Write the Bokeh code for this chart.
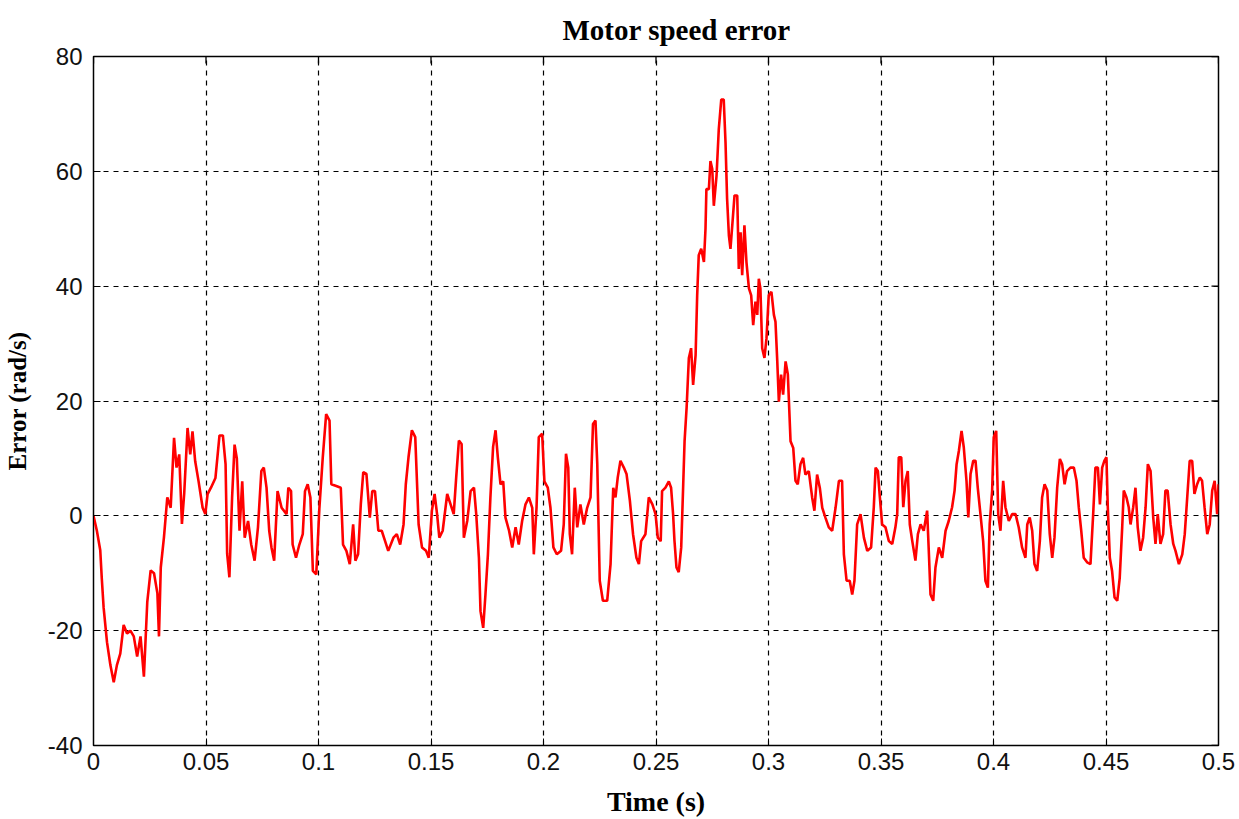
import math
from bokeh.plotting import figure
from bokeh.models import FixedTicker, Range1d
from bokeh.embed import file_html
from bokeh.resources import INLINE

# ---- data ----
time_s = [
    0.0000, 0.0015, 0.0030, 0.0037, 0.0045, 0.0060, 0.0075, 0.0090, 0.0104, 0.0119,
    0.0134, 0.0149, 0.0164, 0.0179, 0.0194, 0.0209, 0.0224, 0.0239, 0.0254, 0.0269,
    0.0284, 0.0291, 0.0299, 0.0313, 0.0328, 0.0343, 0.0358, 0.0369, 0.0381, 0.0393,
    0.0403, 0.0418, 0.0430, 0.0440, 0.0452, 0.0467, 0.0485, 0.0497, 0.0507, 0.0522,
    0.0542, 0.0560, 0.0575, 0.0587, 0.0594, 0.0604, 0.0616, 0.0627, 0.0637, 0.0649,
    0.0661, 0.0672, 0.0687, 0.0701, 0.0716, 0.0731, 0.0746, 0.0757, 0.0769, 0.0781,
    0.0791, 0.0803, 0.0818, 0.0836, 0.0858,
    0.0866, 0.0878, 0.0885, 0.0900, 0.0915, 0.0930, 0.0940, 0.0952, 0.0964, 0.0975,
    0.0990, 0.1004, 0.1019, 0.1034, 0.1049, 0.1057, 0.1079, 0.1099, 0.1109, 0.1124,
    0.1139, 0.1154, 0.1164, 0.1176, 0.1188, 0.1199, 0.1213, 0.1228, 0.1239, 0.1251,
    0.1266, 0.1281, 0.1296, 0.1310, 0.1333, 0.1348, 0.1363, 0.1378, 0.1388, 0.1400,
    0.1415, 0.1430, 0.1445, 0.1460, 0.1478, 0.1490, 0.1504, 0.1516, 0.1527, 0.1537,
    0.1552, 0.1572, 0.1587, 0.1601, 0.1612, 0.1624, 0.1636, 0.1646, 0.1661, 0.1676,
    0.1691, 0.1701, 0.1713,
    0.1720, 0.1732, 0.1742, 0.1753, 0.1764, 0.1776, 0.1787, 0.1797, 0.1809, 0.1821,
    0.1831, 0.1847, 0.1861, 0.1876, 0.1890, 0.1905, 0.1920, 0.1935, 0.1950, 0.1957,
    0.1969, 0.1979, 0.1994, 0.2004, 0.2019, 0.2031, 0.2044, 0.2059, 0.2078, 0.2090,
    0.2100, 0.2110, 0.2117, 0.2127, 0.2139, 0.2150, 0.2164, 0.2179, 0.2194, 0.2209,
    0.2220, 0.2231, 0.2239, 0.2250, 0.2264, 0.2283, 0.2298, 0.2310, 0.2320, 0.2330,
    0.2342, 0.2357, 0.2369, 0.2384, 0.2398, 0.2413, 0.2424, 0.2434, 0.2453, 0.2468,
    0.2484, 0.2498, 0.2508, 0.2521,
    0.2527, 0.2542, 0.2557, 0.2567, 0.2576, 0.2582, 0.2591, 0.2601, 0.2612, 0.2621,
    0.2627, 0.2636, 0.2646, 0.2656, 0.2665, 0.2676, 0.2683, 0.2690, 0.2701, 0.2713,
    0.2720, 0.2724, 0.2735, 0.2742, 0.2750, 0.2757, 0.2769, 0.2779, 0.2790, 0.2801,
    0.2809, 0.2816, 0.2824, 0.2831, 0.2839, 0.2849, 0.2861, 0.2868, 0.2876, 0.2883,
    0.2893, 0.2902, 0.2913, 0.2923, 0.2932, 0.2942, 0.2950, 0.2957, 0.2964, 0.2972,
    0.2982, 0.2991, 0.3001, 0.3013, 0.3024, 0.3031, 0.3039, 0.3046, 0.3056, 0.3065,
    0.3076, 0.3086, 0.3098, 0.3110, 0.3120, 0.3130, 0.3142, 0.3154, 0.3164, 0.3179,
    0.3194, 0.3204, 0.3216, 0.3228, 0.3239, 0.3253, 0.3268, 0.3283, 0.3298, 0.3313,
    0.3327, 0.3335, 0.3347, 0.3361, 0.3372, 0.3382, 0.3394, 0.3409, 0.3424, 0.3439,
    0.3456, 0.3468, 0.3476, 0.3486, 0.3495, 0.3505, 0.3520, 0.3535, 0.3550, 0.3564,
    0.3572, 0.3579, 0.3590, 0.3599, 0.3609, 0.3619, 0.3628, 0.3639, 0.3653, 0.3664,
    0.3676, 0.3690, 0.3705, 0.3713, 0.3720, 0.3732, 0.3742, 0.3757, 0.3772, 0.3787,
    0.3801, 0.3816, 0.3827, 0.3836, 0.3846, 0.3858, 0.3868, 0.3880, 0.3888, 0.3898,
    0.3910, 0.3920, 0.3930, 0.3942, 0.3954, 0.3964, 0.3975, 0.3983, 0.3994, 0.4001,
    0.4012, 0.4021, 0.4031, 0.4043, 0.4053, 0.4068, 0.4083, 0.4098, 0.4112, 0.4127,
    0.4142,
    0.4150, 0.4161, 0.4172, 0.4182, 0.4194, 0.4206, 0.4216, 0.4227, 0.4239, 0.4250,
    0.4261, 0.4271, 0.4283, 0.4295, 0.4305, 0.4316, 0.4327, 0.4342, 0.4357, 0.4369,
    0.4379, 0.4390, 0.4401, 0.4416, 0.4431, 0.4443, 0.4453, 0.4464, 0.4473, 0.4483,
    0.4493, 0.4502, 0.4508, 0.4517, 0.4527, 0.4538, 0.4550, 0.4561, 0.4572, 0.4579,
    0.4591, 0.4601, 0.4609, 0.4621, 0.4631, 0.4641, 0.4653, 0.4665, 0.4676, 0.4686,
    0.4698, 0.4710, 0.4720, 0.4730, 0.4742, 0.4754, 0.4764, 0.4774, 0.4787, 0.4799,
    0.4809, 0.4824, 0.4839, 0.4850, 0.4861, 0.4872, 0.4883, 0.4893, 0.4905, 0.4917,
    0.4927, 0.4938, 0.4950, 0.4961, 0.4972, 0.4983, 0.4994, 0.5000,
]

error_rad_s = [
    0, -2.6, -6, -11, -16, -22, -26, -29, -26, -24,
    -19, -20.5, -20, -21, -24.5, -21, -28, -15, -9.5, -10,
    -13.5, -21, -9, -3.8, 3.2, 1.4, 13.6, 8.4, 10.7, -1.4,
    3.8, 15.3, 10.7, 14.7, 9.5, 6, 1.4, 0.3, 3.8, 4.9,
    6.6, 14, 14, 9, -6.6, -10.7, 3.2, 12.4, 10, -2.6,
    6, -3.8, -0.9, -5, -7.8, -2, 7.8, 8.4, 4.9, -2.6,
    -5.5, -7.8, 4.3, 1.4, 0.3,
    4.9, 4.3, -5, -7.3, -5, -3.2, 4.3, 5.5, 3.2, -9.6,
    -10.2, 1.4, 10.2, 17.7, 16.6, 5.5, 5.2, 4.9, -5, -6.1,
    -8.4, -1.5, -7.8, -6.7, 2, 7.6, 7.3, -0.3, 4.3, 4.3,
    -2.6, -2.6, -4.4, -6.1, -3.8, -3.2, -5, -1.5, 5.5, 10.2,
    14.9, 13.7, -1.5, -5.5, -6.1, -7.3, 0.9, 3.8, 0.3, -3.8,
    -2.6, 3.8, 2, 0.3, 6.7, 13.1, 12.5, -3.8, -0.9, 4.3,
    4.9, 0.3, -7.3,
    -16.6, -19.5, -13.7, -6.7, 3.2, 12, 14.9, 10.2, 5.5, 6,
    -0.3, -2.6, -5.5, -2, -5, -0.9, 2, 3.2, 1.4, -6.7,
    1.4, 13.7, 14.3, 6, 4.9, 1.4, -5.5, -6.7, -6.1, -1.5,
    10.8, 8.4, -3.2, -6.7, 4.9, -2, 2, -1.5, 1.4, 3.2,
    16, 16.6, 9, -11.3, -14.8, -14.8, -8.4, 4.9, 3.2, 6.7,
    9.6, 8.4, 7.3, 2.6, -3.2, -7.3, -8.4, -4.4, -3.2, 3.2,
    2, 0.3, -3.8, -4.4,
    4.3, 4.9, 6, 4.9, 0.3, -4.3, -9, -9.8, -5.5, 5.5,
    13, 18.8, 27.5, 29.2, 22.8, 28, 38.4, 45.4, 46.5, 44.2,
    50, 56.9, 56.9, 61.8, 60.4, 54, 59.2, 67.3, 72.5, 72.5,
    65, 55.2, 48.8, 46.5, 50.6, 55.8, 55.8, 43, 49.4, 41.9,
    50.6, 44.2, 39.6, 38.4, 33.2, 37.3, 35, 41.3, 39.6, 29.2,
    27.5, 30.9, 38.4, 39, 35, 33.8, 26.9, 19.9, 24.6, 21.1,
    26.9, 24.6, 13, 11.8, 6.1, 5.5, 9, 10.1, 7.2, 7.8,
    3.2, 0.9, 7.2, 4.9, 1.4, -0.3, -2, -2.6, 1.4, 6.1,
    6.1, -6.7, -11.3, -11.3, -13.7, -11.3, -1.5, 0.3, -3.8, -6.1,
    -5.5, 1.5, 8.4, 7.8, 3.2, -1.5, -2, -4.4, -4.9, -2,
    0.3, 10.2, 10.2, 1.5, 6.1, 7.8, -1.5, -4.4, -7.8, -3.2,
    -1.5, -2.6, 0.9, -6.7, -13.7, -14.8, -9, -5.5, -7.3, -2.6,
    -0.9, 1.5, 4.4, 9, 11.3, 14.8, 11.9, 6.1, -0.3, 7.3,
    9.6, 9.6, 4.9, 0.3, -4.4, -11.3, -12.5, -1.5, 4.4, 13.7,
    14.8, 0.3, -2.6, 6.1, 1.5, -0.9, 0.3, 0.3, -2, -5.5,
    -7.3,
    -1.5, -0.3, -2.6, -8.4, -9.6, -4.4, 3.2, 5.5, 4.4, -3.2,
    -7.3, -3.8, 4.9, 9.9, 9, 5.5, 7.8, 8.4, 8.4, 6.1,
    1.5, -2.6, -7.3, -8.1, -8.4, 0.3, 8.4, 8.4, 2, 8.4,
    9.6, 10.2, 1.5, -7.3, -9.6, -14.2, -14.8, -10.8, -2, 4.4,
    3.2, 1.5, -1.5, 1.5, 4.9, -2, -6.1, -3.8, 1.5, 9,
    7.8, -0.3, -4.9, 0.3, -4.9, -3.2, 4.4, 4.4, -1.5, -4.9,
    -6.1, -8.4, -6.7, -3.2, 3.2, 9.6, 9.6, 3.8, 5.5, 6.7,
    6.1, 1.5, -3.2, -1.5, 4.4, 6.1, 0.3, 5.5,
]

x_ticks = [0, 0.05, 0.1, 0.15, 0.2, 0.25, 0.3, 0.35, 0.4, 0.45, 0.5]
x_tick_labels = ["0", "0.05", "0.1", "0.15", "0.2", "0.25", "0.3", "0.35", "0.4", "0.45", "0.5"]
y_ticks = [-40, -20, 0, 20, 40, 60, 80]
y_tick_labels = ["-40", "-20", "0", "20", "40", "60", "80"]

title_text = "Motor speed error"
x_label = "Time (s)"
y_label = "Error (rad/s)"

SERIF = "Liberation Serif"
SANS = "Liberation Sans"

p = figure(
    width=1239, height=819,
    x_range=Range1d(0, 0.5), y_range=Range1d(-40, 80),
    output_backend="svg", toolbar_location=None,
    min_border_left=93, min_border_right=21, min_border_top=55, min_border_bottom=72,
    background_fill_color="white", border_fill_color="white",
)

p.title.text = title_text
p.title.align = "left"
p.title.offset = 469
p.title.text_font = SERIF
p.title.text_font_style = "bold"
p.title.text_font_size = "29px"
p.title.text_color = "black"
p.title.standoff = 22

p.outline_line_color = "black"
p.outline_line_width = 1.5

for ax in (p.xaxis[0], p.yaxis[0]):
    ax.major_tick_in = 7
    ax.major_tick_out = 0
    ax.minor_tick_in = 0
    ax.minor_tick_out = 0
    ax.axis_line_color = "black"
    ax.major_tick_line_color = "black"
    ax.major_label_text_font = SANS
    ax.major_label_text_font_size = "24px"
    ax.major_label_text_color = "#111111"
    ax.axis_label_text_font = SERIF
    ax.axis_label_text_font_style = "bold"
    ax.axis_label_text_color = "black"

p.xaxis[0].ticker = FixedTicker(ticks=x_ticks)
p.xaxis[0].major_label_overrides = dict(zip(x_ticks, x_tick_labels))
p.xaxis[0].major_label_standoff = 7
p.xaxis[0].axis_label = x_label
p.xaxis[0].axis_label_text_font_size = "28px"
p.xaxis[0].axis_label_standoff = 13

p.yaxis[0].ticker = FixedTicker(ticks=y_ticks)
p.yaxis[0].major_label_overrides = dict(zip(y_ticks, y_tick_labels))
p.yaxis[0].major_label_standoff = 11
p.yaxis[0].axis_label = y_label
p.yaxis[0].axis_label_text_font_size = "25px"
p.yaxis[0].axis_label_standoff = 14

p.xgrid.ticker = FixedTicker(ticks=x_ticks)
p.ygrid.ticker = FixedTicker(ticks=y_ticks)
for g in (p.xgrid[0], p.ygrid[0]):
    g.grid_line_color = "black"
    g.grid_line_dash = "5 5"
    g.grid_line_width = 1.2
    g.grid_line_alpha = 1.0

# inward box ticks on the top and right edges (half of each dash is clipped by the frame)
p.scatter(x_ticks, [80] * len(x_ticks), marker="dash", angle=math.pi / 2, size=14,
          line_color="black", line_width=1.3)
p.scatter([0.5] * len(y_ticks), y_ticks, marker="dash", size=14,
          line_color="black", line_width=1.3)

p.line(time_s, error_rad_s, line_color="#ff0000", line_width=2.6)

open("out.html", "w").write(file_html(p, INLINE))
